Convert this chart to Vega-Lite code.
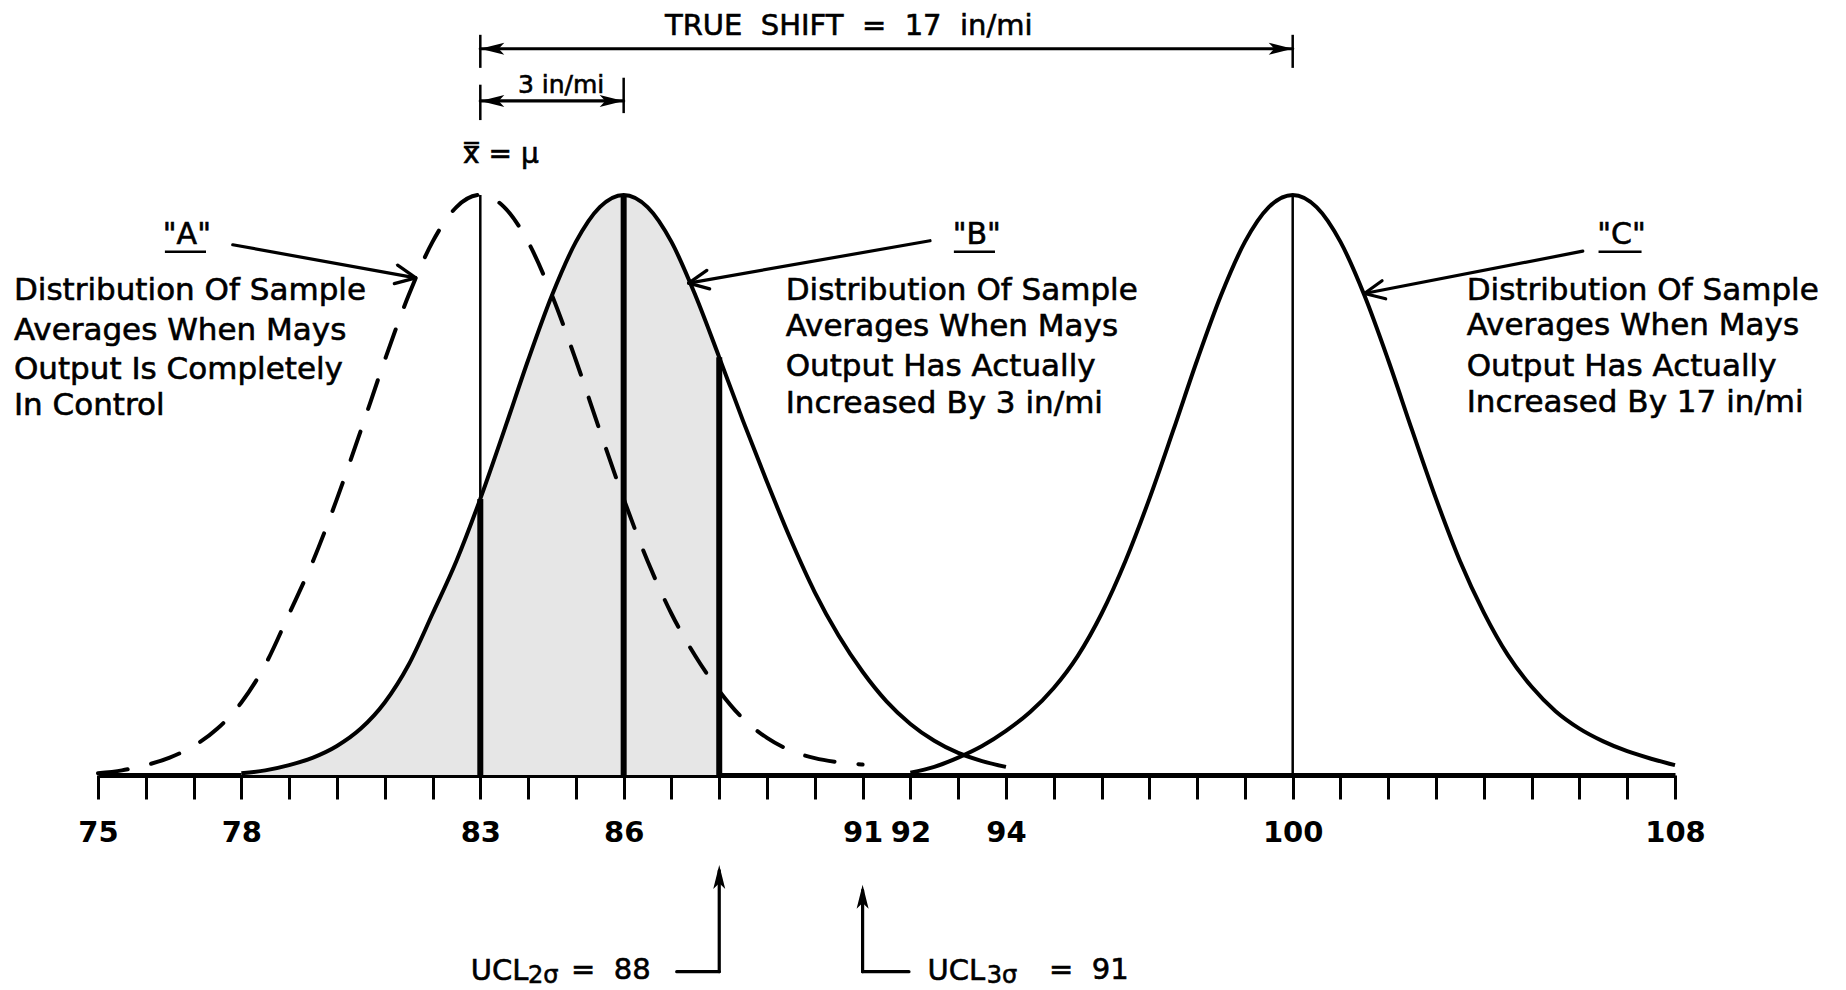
{
  "$schema": "https://vega.github.io/schema/vega-lite/v6.json",
  "width": 1577,
  "height": 775,
  "autosize": {"type": "none"},
  "padding": {"left": 98, "right": 171, "top": 0, "bottom": 215},
  "background": "white",
  "config": {"view": {"stroke": null}, "font": "DejaVu Sans"},
  "datasets": {
    "curves": [
      {"curve":"A","x":75,"f":0.003},{"curve":"A","x":75.5,"f":0.008},{"curve":"A","x":76,"f":0.017},{"curve":"A","x":76.5,"f":0.03},
      {"curve":"A","x":77,"f":0.05},{"curve":"A","x":77.5,"f":0.08},{"curve":"A","x":78,"f":0.125},{"curve":"A","x":78.5,"f":0.19},
      {"curve":"A","x":79,"f":0.278},{"curve":"A","x":79.5,"f":0.369},{"curve":"A","x":80,"f":0.476},{"curve":"A","x":80.5,"f":0.594},
      {"curve":"A","x":81,"f":0.715},{"curve":"A","x":81.5,"f":0.827},{"curve":"A","x":82,"f":0.919},{"curve":"A","x":82.5,"f":0.979},
      {"curve":"A","x":83,"f":1.0},{"curve":"A","x":83.5,"f":0.979},{"curve":"A","x":84,"f":0.919},{"curve":"A","x":84.5,"f":0.827},
      {"curve":"A","x":85,"f":0.715},{"curve":"A","x":85.5,"f":0.594},{"curve":"A","x":86,"f":0.476},{"curve":"A","x":86.5,"f":0.369},
      {"curve":"A","x":87,"f":0.278},{"curve":"A","x":87.5,"f":0.205},{"curve":"A","x":88,"f":0.145},{"curve":"A","x":88.5,"f":0.097},
      {"curve":"A","x":89,"f":0.064},{"curve":"A","x":89.5,"f":0.042},{"curve":"A","x":90,"f":0.029},{"curve":"A","x":90.5,"f":0.022},
      {"curve":"A","x":91,"f":0.018},
      {"curve":"B","x":78,"f":0.003},{"curve":"B","x":78.5,"f":0.008},{"curve":"B","x":79,"f":0.017},{"curve":"B","x":79.5,"f":0.03},
      {"curve":"B","x":80,"f":0.05},{"curve":"B","x":80.5,"f":0.08},{"curve":"B","x":81,"f":0.125},{"curve":"B","x":81.5,"f":0.19},
      {"curve":"B","x":82,"f":0.278},{"curve":"B","x":82.5,"f":0.369},{"curve":"B","x":83,"f":0.476},{"curve":"B","x":83.5,"f":0.594},
      {"curve":"B","x":84,"f":0.715},{"curve":"B","x":84.5,"f":0.827},{"curve":"B","x":85,"f":0.919},{"curve":"B","x":85.5,"f":0.979},
      {"curve":"B","x":86,"f":1.0},{"curve":"B","x":86.5,"f":0.979},{"curve":"B","x":87,"f":0.919},{"curve":"B","x":87.5,"f":0.827},
      {"curve":"B","x":88,"f":0.72},{"curve":"B","x":88.5,"f":0.61},{"curve":"B","x":89,"f":0.505},{"curve":"B","x":89.5,"f":0.405},
      {"curve":"B","x":90,"f":0.315},{"curve":"B","x":90.5,"f":0.24},{"curve":"B","x":91,"f":0.178},{"curve":"B","x":91.5,"f":0.127},
      {"curve":"B","x":92,"f":0.088},{"curve":"B","x":92.5,"f":0.059},{"curve":"B","x":93,"f":0.038},{"curve":"B","x":93.5,"f":0.024},
      {"curve":"B","x":94,"f":0.014},
      {"curve":"C","x":92,"f":0.004},{"curve":"C","x":92.5,"f":0.014},{"curve":"C","x":93,"f":0.03},{"curve":"C","x":93.5,"f":0.05},
      {"curve":"C","x":94,"f":0.076},{"curve":"C","x":94.5,"f":0.108},{"curve":"C","x":95,"f":0.15},{"curve":"C","x":95.5,"f":0.205},
      {"curve":"C","x":96,"f":0.278},{"curve":"C","x":96.5,"f":0.369},{"curve":"C","x":97,"f":0.476},{"curve":"C","x":97.5,"f":0.594},
      {"curve":"C","x":98,"f":0.715},{"curve":"C","x":98.5,"f":0.827},{"curve":"C","x":99,"f":0.919},{"curve":"C","x":99.5,"f":0.979},
      {"curve":"C","x":100,"f":1.0},{"curve":"C","x":100.5,"f":0.979},{"curve":"C","x":101,"f":0.919},{"curve":"C","x":101.5,"f":0.827},
      {"curve":"C","x":102,"f":0.715},{"curve":"C","x":102.5,"f":0.594},{"curve":"C","x":103,"f":0.476},{"curve":"C","x":103.5,"f":0.369},
      {"curve":"C","x":104,"f":0.28},{"curve":"C","x":104.5,"f":0.207},{"curve":"C","x":105,"f":0.152},{"curve":"C","x":105.5,"f":0.11},
      {"curve":"C","x":106,"f":0.08},{"curve":"C","x":106.5,"f":0.058},{"curve":"C","x":107,"f":0.041},{"curve":"C","x":107.5,"f":0.028},
      {"curve":"C","x":108,"f":0.017}
    ],
    "segs": [
      {"g":"thin","x":83,"f":0,"x2":83,"f2":1.0},
      {"g":"thin","x":100,"f":0,"x2":100,"f2":1.0},
      {"g":"thin","x":83,"f":1.219,"x2":83,"f2":1.276},
      {"g":"thin","x":100,"f":1.219,"x2":100,"f2":1.276},
      {"g":"thin","x":83,"f":1.129,"x2":83,"f2":1.19},
      {"g":"thin","x":86,"f":1.141,"x2":86,"f2":1.202},
      {"g":"thick","x":83,"f":0,"x2":83,"f2":0.476},
      {"g":"thick","x":86,"f":0,"x2":86,"f2":1.0},
      {"g":"thick","x":88,"f":0,"x2":88,"f2":0.72},
      {"g":"med","x":83,"f":1.252,"x2":100,"f2":1.252},
      {"g":"med","x":83,"f":1.162,"x2":86,"f2":1.162},
      {"g":"med","x":77.82,"f":0.914,"x2":81.65,"f2":0.857},
      {"g":"med","x":81.65,"f":0.857,"x2":81.27,"f2":0.879},
      {"g":"med","x":81.65,"f":0.857,"x2":81.2,"f2":0.847},
      {"g":"med","x":92.41,"f":0.921,"x2":87.36,"f2":0.848},
      {"g":"med","x":87.36,"f":0.848,"x2":87.8,"f2":0.838},
      {"g":"med","x":87.36,"f":0.848,"x2":87.74,"f2":0.87},
      {"g":"med","x":106.07,"f":0.903,"x2":101.5,"f2":0.83},
      {"g":"med","x":101.5,"f":0.83,"x2":101.946,"f2":0.821},
      {"g":"med","x":101.5,"f":0.83,"x2":101.87,"f2":0.852},
      {"g":"med","x":88,"f":-0.339,"x2":88,"f2":-0.165},
      {"g":"med","x":87.11,"f":-0.339,"x2":88,"f2":-0.339},
      {"g":"med","x":91,"f":-0.339,"x2":91,"f2":-0.199},
      {"g":"med","x":91,"f":-0.339,"x2":91.97,"f2":-0.339},
      {"g":"under","x":76.4,"f":0.902,"x2":77.26,"f2":0.902},
      {"g":"under","x":92.91,"f":0.902,"x2":93.77,"f2":0.902},
      {"g":"under","x":106.4,"f":0.902,"x2":107.3,"f2":0.902}
    ],
    "heads": [
      {"dir":"left","x":83,"f":1.252},
      {"dir":"right","x":100,"f":1.252},
      {"dir":"left","x":83,"f":1.162},
      {"dir":"right","x":86,"f":1.162},
      {"dir":"up","x":88,"f":-0.155},
      {"dir":"up","x":91,"f":-0.189}
    ],
    "labels": [
      {"g":"desc","text":"Distribution Of Sample","x":73.24,"f":0.834},
      {"g":"desc","text":"Averages When Mays","x":73.24,"f":0.766},
      {"g":"desc","text":"Output Is Completely","x":73.24,"f":0.698},
      {"g":"desc","text":"In Control","x":73.24,"f":0.636},
      {"g":"desc","text":"Distribution Of Sample","x":89.39,"f":0.834},
      {"g":"desc","text":"Averages When Mays","x":89.39,"f":0.772},
      {"g":"desc","text":"Output Has Actually","x":89.39,"f":0.703},
      {"g":"desc","text":"Increased By 3 in/mi","x":89.39,"f":0.64},
      {"g":"desc","text":"Distribution Of Sample","x":103.64,"f":0.834},
      {"g":"desc","text":"Averages When Mays","x":103.64,"f":0.774},
      {"g":"desc","text":"Output Has Actually","x":103.64,"f":0.703},
      {"g":"desc","text":"Increased By 17 in/mi","x":103.64,"f":0.641},
      {"g":"tag","text":"\"A\"","x":76.86,"f":0.931},
      {"g":"tag","text":"\"B\"","x":93.39,"f":0.931},
      {"g":"tag","text":"\"C\"","x":106.88,"f":0.931},
      {"g":"title","text":"TRUE\u00a0\u00a0SHIFT\u00a0\u00a0=\u00a0\u00a017\u00a0\u00a0in/mi","x":90.71,"f":1.291},
      {"g":"small","text":"3 in/mi","x":84.69,"f":1.19},
      {"g":"xbar","text":"x̿ = μ","x":82.64,"f":1.069},
      {"g":"ucl","text":"UCL","x":82.8,"f":-0.338},
      {"g":"ucl","text":"=\u00a0\u00a088","x":84.9,"f":-0.336},
      {"g":"ucl","text":"UCL","x":92.36,"f":-0.338},
      {"g":"ucl","text":"=\u00a0\u00a091","x":94.9,"f":-0.336},
      {"g":"sub","text":"2σ","x":84.0,"f":-0.347},
      {"g":"sub","text":"3σ","x":93.6,"f":-0.347}
    ]
  },
  "encoding": {
    "x": {"field": "x", "type": "quantitative", "scale": {"domain": [75, 108], "nice": false, "zero": false}, "title": null,
      "axis": {
        "values": [75,76,77,78,79,80,81,82,83,84,85,86,87,88,89,90,91,92,93,94,95,96,97,98,99,100,101,102,103,104,105,106,107,108],
        "labelExpr": "indexof([75,78,83,86,91,92,94,100,108], datum.value) >= 0 ? datum.label : ''",
        "labelFont": "DejaVu Sans", "labelFontSize": 29, "labelFontWeight": "bold", "labelColor": "black", "labelPadding": 19,
        "labelOverlap": false, "labelFlush": false, "grid": false, "title": null,
        "tickSize": 24, "tickWidth": 3, "tickColor": "black", "domainWidth": 5, "domainColor": "black"
      }},
    "y": {"field": "f", "type": "quantitative", "scale": {"domain": [0, 1.336], "nice": false, "zero": false}, "axis": null, "title": null}
  },
  "layer": [
    {
      "data": {"name": "curves"},
      "transform": [{"filter": "datum.curve == 'B' && datum.x <= 88"}],
      "mark": {"type": "area", "interpolate": "monotone", "color": "#e6e6e6", "opacity": 1}
    },
    {
      "data": {"name": "curves"},
      "transform": [{"filter": "datum.curve != 'A'"}],
      "mark": {"type": "line", "interpolate": "monotone", "color": "black", "strokeWidth": 4},
      "encoding": {"detail": {"field": "curve"}}
    },
    {
      "data": {"name": "curves"},
      "transform": [{"filter": "datum.curve == 'A'"}],
      "mark": {"type": "line", "interpolate": "monotone", "color": "black", "strokeWidth": 4, "strokeDash": [30, 24], "strokeCap": "round"}
    },
    {
      "data": {"name": "segs"},
      "transform": [{"filter": "datum.g == 'thin'"}],
      "mark": {"type": "rule", "color": "black", "strokeWidth": 2.5},
      "encoding": {"x2": {"field": "x2"}, "y2": {"field": "f2"}}
    },
    {
      "data": {"name": "segs"},
      "transform": [{"filter": "datum.g == 'thick'"}],
      "mark": {"type": "rule", "color": "black", "strokeWidth": 6},
      "encoding": {"x2": {"field": "x2"}, "y2": {"field": "f2"}}
    },
    {
      "data": {"name": "segs"},
      "transform": [{"filter": "datum.g == 'med'"}],
      "mark": {"type": "rule", "color": "black", "strokeWidth": 3.2, "strokeCap": "round"},
      "encoding": {"x2": {"field": "x2"}, "y2": {"field": "f2"}}
    },
    {
      "data": {"name": "segs"},
      "transform": [{"filter": "datum.g == 'under'"}],
      "mark": {"type": "rule", "color": "black", "strokeWidth": 2.5},
      "encoding": {"x2": {"field": "x2"}, "y2": {"field": "f2"}}
    },
    {
      "data": {"name": "heads"},
      "mark": {"type": "point", "filled": true, "color": "black", "opacity": 1, "size": 256, "strokeWidth": 0},
      "encoding": {
        "shape": {"field": "dir", "type": "nominal", "legend": null,
          "scale": {"domain": ["left", "right", "up"],
            "range": ["M0,0L3,-0.75L2.3,0L3,0.75Z", "M0,0L-3,-0.75L-2.3,0L-3,0.75Z", "M0,0L-0.75,3L0,2.3L0.75,3Z"]}}
      }
    },
    {
      "data": {"name": "labels"},
      "transform": [{"filter": "datum.g == 'desc'"}],
      "mark": {"type": "text", "align": "left", "baseline": "middle", "fontSize": 31, "color": "black", "stroke": "black", "strokeWidth": 0.6},
      "encoding": {"text": {"field": "text"}}
    },
    {
      "data": {"name": "labels"},
      "transform": [{"filter": "datum.g == 'tag'"}],
      "mark": {"type": "text", "align": "center", "baseline": "middle", "fontSize": 30, "color": "black", "stroke": "black", "strokeWidth": 0.6},
      "encoding": {"text": {"field": "text"}}
    },
    {
      "data": {"name": "labels"},
      "transform": [{"filter": "datum.g == 'title'"}],
      "mark": {"type": "text", "align": "center", "baseline": "middle", "fontSize": 29, "color": "black", "stroke": "black", "strokeWidth": 0.6},
      "encoding": {"text": {"field": "text"}}
    },
    {
      "data": {"name": "labels"},
      "transform": [{"filter": "datum.g == 'small'"}],
      "mark": {"type": "text", "align": "center", "baseline": "middle", "fontSize": 25, "color": "black", "stroke": "black", "strokeWidth": 0.6},
      "encoding": {"text": {"field": "text"}}
    },
    {
      "data": {"name": "labels"},
      "transform": [{"filter": "datum.g == 'xbar'"}],
      "mark": {"type": "text", "align": "left", "baseline": "middle", "fontSize": 28, "color": "black", "stroke": "black", "strokeWidth": 0.6},
      "encoding": {"text": {"field": "text"}}
    },
    {
      "data": {"name": "labels"},
      "transform": [{"filter": "datum.g == 'ucl'"}],
      "mark": {"type": "text", "align": "left", "baseline": "middle", "fontSize": 29, "color": "black", "stroke": "black", "strokeWidth": 0.6},
      "encoding": {"text": {"field": "text"}}
    },
    {
      "data": {"name": "labels"},
      "transform": [{"filter": "datum.g == 'sub'"}],
      "mark": {"type": "text", "align": "left", "baseline": "middle", "fontSize": 24, "color": "black", "stroke": "black", "strokeWidth": 0.6},
      "encoding": {"text": {"field": "text"}}
    }
  ]
}
